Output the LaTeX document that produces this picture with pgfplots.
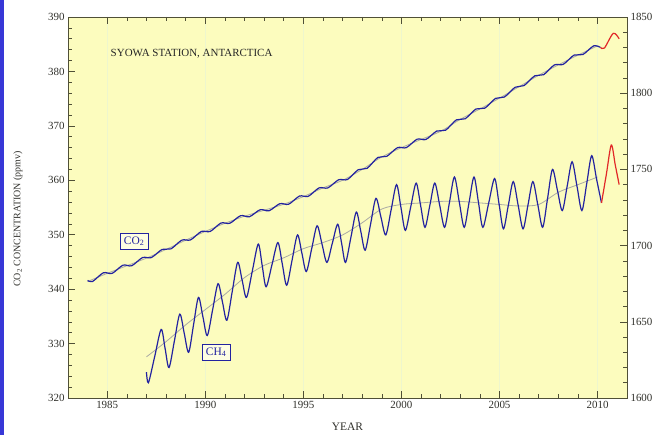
\documentclass[border=0pt]{standalone}
\usepackage{pgfplots}
\pgfplotsset{compat=1.18}
\usepackage{fontspec}
\setmainfont{Liberation Serif}
\definecolor{bg}{RGB}{252,252,190}
\definecolor{gridc}{RGB}{238,246,205}
\definecolor{axc}{RGB}{80,80,55}
\definecolor{tickc}{RGB}{50,50,45}
\definecolor{lineblue}{RGB}{35,35,160}
\definecolor{trendgray}{RGB}{170,170,165}
\definecolor{redc}{RGB}{225,40,40}
\definecolor{frameblue}{RGB}{55,55,215}
\pgfplotsset{
  common/.style={
    at={(68bp,37bp)}, anchor=south west,
    scale only axis, width=559bp, height=381bp,
    xmin=1983, xmax=2011.5,
    tick align=inside,
    major tick length=7bp, minor tick length=4bp,
    tick style={axc, line width=0.6pt},
    axis line style={axc, line width=0.6pt},
    tick label style={font=\fontsize{11}{13}\selectfont, text=tickc},
    /pgf/number format/assume math mode=true,
    /pgf/number format/1000 sep={},
  }
}
\begin{document}
\begin{tikzpicture}
\path[use as bounding box] (0,0) rectangle (655bp,435bp);
\fill[white] (0,0) rectangle (655bp,435bp);
\fill[frameblue] (0,0) rectangle (4bp,435bp);
\begin{axis}[common,
  ymin=320, ymax=390,
  axis background/.style={fill=bg},
  xtick={1985,1990,...,2010}, minor x tick num=4,
  ytick={320,330,...,390}, minor y tick num=4,
  ytick pos=left,
  xmajorgrids, major x grid style={gridc, line width=1.2pt},
  xlabel={YEAR},
  xlabel style={at={(axis description cs:0.5,-0.076)}, anchor=center, font=\fontsize{11.5}{13}\selectfont, text=tickc},
  ylabel={CO\textsubscript{2} CONCENTRATION (ppmv)},
  ylabel style={at={(axis description cs:-0.0894,0.47)}, anchor=center, font=\fontsize{10}{12}\selectfont, text=tickc},
]
\addplot[trendgray, line width=0.8pt, smooth] coordinates {
(1984,341.4) (1985,342.9) (1986,344.3) (1987,345.7) (1988,347.3) (1989,349.0)
(1990,350.6) (1991,352.1) (1992,353.4) (1993,354.5) (1994,355.6) (1995,357.0)
(1996,358.6) (1997,360.0) (1998,362.0) (1999,364.3) (2000,366.0) (2001,367.5)
(2002,369.0) (2003,371.2) (2004,373.1) (2005,375.1) (2006,377.2) (2007,379.3)
(2008,381.2) (2009,383.0) (2010,384.7)
};
\addplot[lineblue, line width=1.2pt, smooth] coordinates {
(1984.0,341.6) (1984.25,341.4) (1984.8,343.0) (1985.25,342.9) (1985.8,344.4)
(1986.25,344.3) (1986.8,345.8) (1987.25,345.8) (1987.8,347.3) (1988.25,347.4)
(1988.8,349.0) (1989.25,349.05) (1989.8,350.6) (1990.25,350.6) (1990.8,352.15)
(1991.25,352.1) (1991.8,353.5) (1992.25,353.3) (1992.8,354.6) (1993.25,354.4)
(1993.8,355.7) (1994.25,355.6) (1994.8,357.1) (1995.25,357.05) (1995.8,358.6)
(1996.25,358.6) (1996.8,360.1) (1997.25,360.15) (1997.8,361.95) (1998.25,362.2)
(1998.8,364.2) (1999.25,364.4) (1999.8,366.0) (2000.25,366.0) (2000.8,367.55)
(2001.25,367.5) (2001.8,369.05) (2002.25,369.2) (2002.8,371.1) (2003.25,371.3)
(2003.8,373.1) (2004.25,373.25) (2004.8,375.05) (2005.25,375.3) (2005.8,377.1)
(2006.25,377.4) (2006.8,379.2) (2007.25,379.4) (2007.8,381.2) (2008.25,381.3)
(2008.8,383.0) (2009.25,383.1) (2009.8,384.7) (2010.15,384.4)
};
\addplot[redc, line width=1.2pt, smooth] coordinates {
(2010.15,384.4) (2010.35,384.3) (2010.8,387.0) (2011.1,386.0)
};
\node[anchor=west, font=\fontsize{11}{13}\selectfont, text=black!85] at (axis cs:1985,383.2) {SYOWA STATION, ANTARCTICA};
\node[draw=lineblue, fill=white!55!bg, text=lineblue, line width=0.6pt, inner xsep=3.5bp, inner ysep=3bp, font=\fontsize{11.5}{13}\selectfont] at (axis cs:1986.37,348.8) {CO\textsubscript{2}};
\node[draw=lineblue, fill=white!55!bg, text=lineblue, line width=0.6pt, inner xsep=3.5bp, inner ysep=3bp, font=\fontsize{11.5}{13}\selectfont] at (axis cs:1990.55,328.4) {CH\textsubscript{4}};
\end{axis}
\begin{axis}[common,
  ymin=1600, ymax=1850,
  axis x line=none, axis y line*=right,
  ytick={1600,1650,...,1850}, minor y tick num=4,
]
\addplot[trendgray, line width=0.8pt, smooth] coordinates {
(1987,1627) (1988,1637) (1989,1648) (1990,1658) (1991,1668) (1992,1679)
(1993,1687) (1994,1692) (1995,1698) (1996,1702) (1997,1707) (1998,1715)
(1999,1724) (2000,1727) (2001,1728) (2002,1729) (2003,1729) (2004,1728)
(2005,1727) (2006,1726) (2007,1727) (2008,1735) (2009,1740) (2010,1745)
};
\addplot[lineblue, line width=1.2pt, smooth] coordinates {
(1987.0,1617) (1987.1,1610) (1987.425,1627.5) (1987.75,1645) (1987.95,1632.5)
(1988.15,1620) (1988.425,1637.5) (1988.7,1655) (1988.925,1642.5)
(1989.15,1630) (1989.4,1648) (1989.65,1666) (1989.875,1653.5)
(1990.1,1641) (1990.375,1658) (1990.65,1675) (1990.875,1663)
(1991.1,1651) (1991.375,1670) (1991.65,1689) (1991.875,1677.5)
(1992.1,1666) (1992.4,1683.5) (1992.7,1701) (1992.9,1687)
(1993.1,1673) (1993.4,1687.5) (1993.7,1702) (1993.925,1688)
(1994.15,1674) (1994.425,1690.5) (1994.7,1707) (1994.925,1695)
(1995.15,1683) (1995.425,1698) (1995.7,1713) (1995.95,1701)
(1996.2,1689) (1996.475,1701.5) (1996.75,1714) (1996.95,1701.5)
(1997.15,1689) (1997.425,1705.5) (1997.7,1722) (1997.925,1709.5)
(1998.15,1697) (1998.425,1714) (1998.7,1731) (1998.95,1719)
(1999.2,1707) (1999.475,1723.5) (1999.75,1740) (1999.975,1725)
(2000.2,1710) (2000.475,1725.5) (2000.75,1741) (2000.975,1726.5)
(2001.2,1712) (2001.45,1726.5) (2001.7,1741) (2001.95,1726.5)
(2002.2,1712) (2002.45,1728.5) (2002.7,1745) (2002.95,1728.5)
(2003.2,1712) (2003.45,1728.5) (2003.7,1745) (2003.925,1728.5)
(2004.15,1712) (2004.45,1728) (2004.75,1744) (2004.975,1727.5)
(2005.2,1711) (2005.45,1726.5) (2005.7,1742) (2005.95,1726.5)
(2006.2,1711) (2006.45,1726.5) (2006.7,1742) (2006.95,1727)
(2007.2,1712) (2007.45,1731) (2007.7,1750) (2007.95,1736.5)
(2008.2,1723) (2008.45,1739) (2008.7,1755) (2008.95,1739)
(2009.2,1723) (2009.45,1741) (2009.7,1759) (2009.95,1743.5)
(2010.2,1728)
};
\addplot[redc, line width=1.2pt, smooth] coordinates {
(2010.2,1728) (2010.45,1747) (2010.7,1766) (2010.9,1753) (2011.1,1740)
};
\end{axis}
\end{tikzpicture}
\end{document}
